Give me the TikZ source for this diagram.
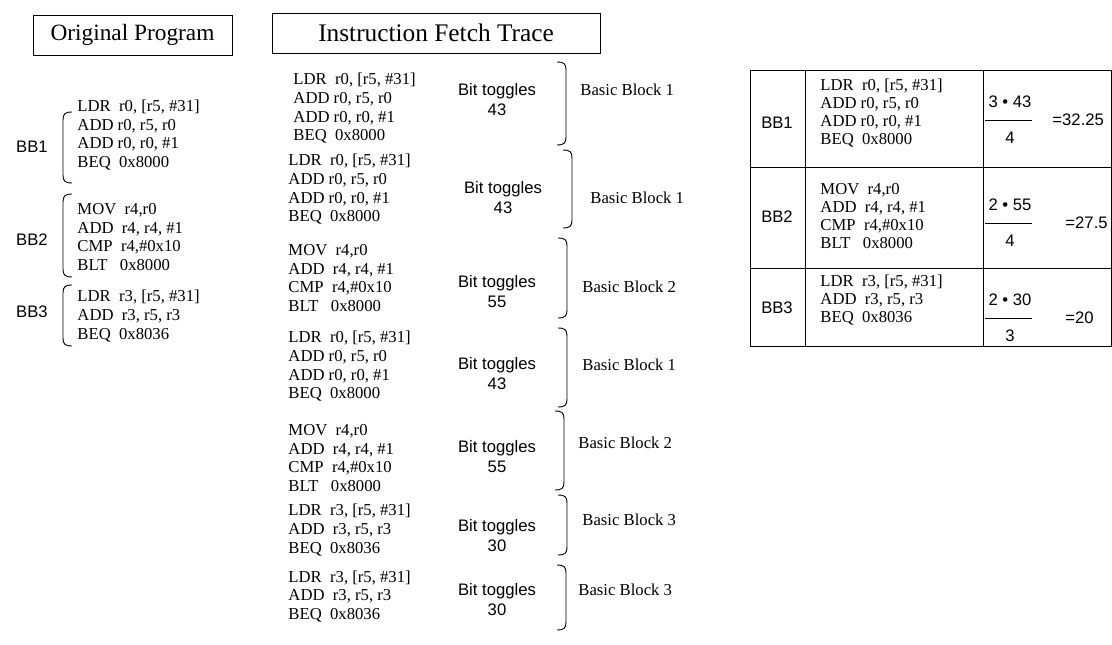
\documentclass[tikz,border=0pt]{standalone}
\usepackage{fontspec}
\setmainfont{Liberation Serif}
\newfontfamily\sansf{Liberation Sans}
\usetikzlibrary{positioning}

\newcommand{\codefont}{\fontsize{12.5}{14}\selectfont}
\newcommand{\labfont}{\sansf\fontsize{12.5}{15}\selectfont}
% the three basic blocks
\newcommand{\bbone}{LDR~~r0, [r5, \#31]\\ADD r0, r5, r0\\ADD r0, r0, \#1\\BEQ~~0x8000}
\newcommand{\bbtwo}{MOV~~r4,r0\\ADD~~r4, r4, \#1\\CMP~~r4,\#0x10\\BLT~~~0x8000}
\newcommand{\bbthree}{LDR~~r3, [r5, \#31]\\ADD~~r3, r5, r3\\BEQ~~0x8036}
% braces: x, top, bottom
\newcommand{\bracer}[3]{\draw (#1-9,#2) .. controls (#1-2,#2) and (#1,#2+2) .. (#1,#2+8) -- (#1,#3-8) .. controls (#1,#3-2) and (#1-2,#3) .. (#1-9,#3);}
\newcommand{\bracel}[3]{\draw (#1+9,#2) .. controls (#1+2,#2) and (#1,#2+2) .. (#1,#2+8) -- (#1,#3-8) .. controls (#1,#3-2) and (#1+2,#3) .. (#1+9,#3);}

\begin{document}
\begin{tikzpicture}[x=0.75pt, y=-0.75pt, line width=0.7pt,
    code/.style={font=\codefont, align=left, anchor=west, inner sep=0},
    tcode/.style={font=\fontsize{12.5}{13.5}\selectfont, align=left, anchor=west, inner sep=0},
    titlebox/.style={draw, inner sep=0, minimum height=30pt},
    lab/.style={font=\labfont, inner sep=0},
    toggle/.style={font=\labfont, align=center, inner sep=0},
    blk/.style={font=\fontsize{12.5}{15}\selectfont, anchor=west, inner sep=0}]
\useasboundingbox (0,0) rectangle (1112,645);

% Titles
\node[titlebox, minimum width=149.25pt, font=\fontsize{17.5}{20}\selectfont] (torig) at (132.5,35) {Original Program};
\node[titlebox, minimum width=246pt, font=\fontsize{19}{22}\selectfont] (ttrace) at (436,33) {Instruction Fetch Trace};

% Original program
\foreach \i/\code/\cy/\ly/\top/\bot in {1/\bbone/135/147/112/183, 2/\bbtwo/237/240/194/277, 3/\bbthree/316/312/285/346} {
    \node[lab] (obl\i) at (32,\ly) {BB\i};
    \node[code] (obc\i) at (77,\cy) {\code};
    \bracel{63}{\top}{\bot}
}

% Instruction fetch trace
\foreach \i/\code/\cx/\cy/\bits/\bx/\by/\lab/\lx/\ly/\rx/\top/\bot in {
    1/\bbone/293/108.5/43/497/100/1/580/90/566/62/145,
    2/\bbone/288/189.5/43/503/198/1/590/198/572/150/228,
    3/\bbtwo/288/278/55/497/292/2/582/287/567/238/318,
    4/\bbone/288/366.5/43/497/374/1/582/365/567/328/407,
    5/\bbtwo/288/458/55/497/457/2/578/443/564/411/490,
    6/\bbthree/288/530/30/497/536/3/582/520/567/495/555,
    7/\bbthree/288/596.5/30/497/600/3/578/590/566/565/630} {
    \node[code] (tc\i) at (\cx,\cy) {\code};
    \node[toggle] (tb\i) at (\bx,\by) {Bit toggles\\\bits};
    \node[blk] (tl\i) at (\lx,\ly) {Basic Block \lab};
    \bracer{\rx}{\top}{\bot}
}

% Table
\draw (750,70) rectangle (1111,346);
\draw (805,70) -- (805,346);
\draw (983,70) -- (983,346);
\draw (750,167) -- (1111,167);
\draw (750,268) -- (1111,268);

\foreach \i/\code/\cy/\ly in {1/\bbone/113/123, 2/\bbtwo/216/217, 3/\bbthree/300/308} {
    \node[lab] (tbl\i) at (777,\ly) {BB\i};
    \node[tcode] (tbc\i) at (820,\cy) {\code};
}

% Average toggles
\foreach \i/\num/\den/\res/\fy/\rx in {1/3 • 43/4/=32.25/102/1052, 2/2 • 55/4/=27.5/205/1065, 3/2 • 30/3/=20/300/1065} {
    \node[lab] (fn\i) at (1010,\fy) {\num};
    \node[lab] (fd\i) at (1010,\fy+36) {\den};
    \node[lab, anchor=west] (fr\i) at (\rx,\fy+18) {\res};
    \draw (985,\fy+18) -- (1032,\fy+18);
}

\end{tikzpicture}
\end{document}
